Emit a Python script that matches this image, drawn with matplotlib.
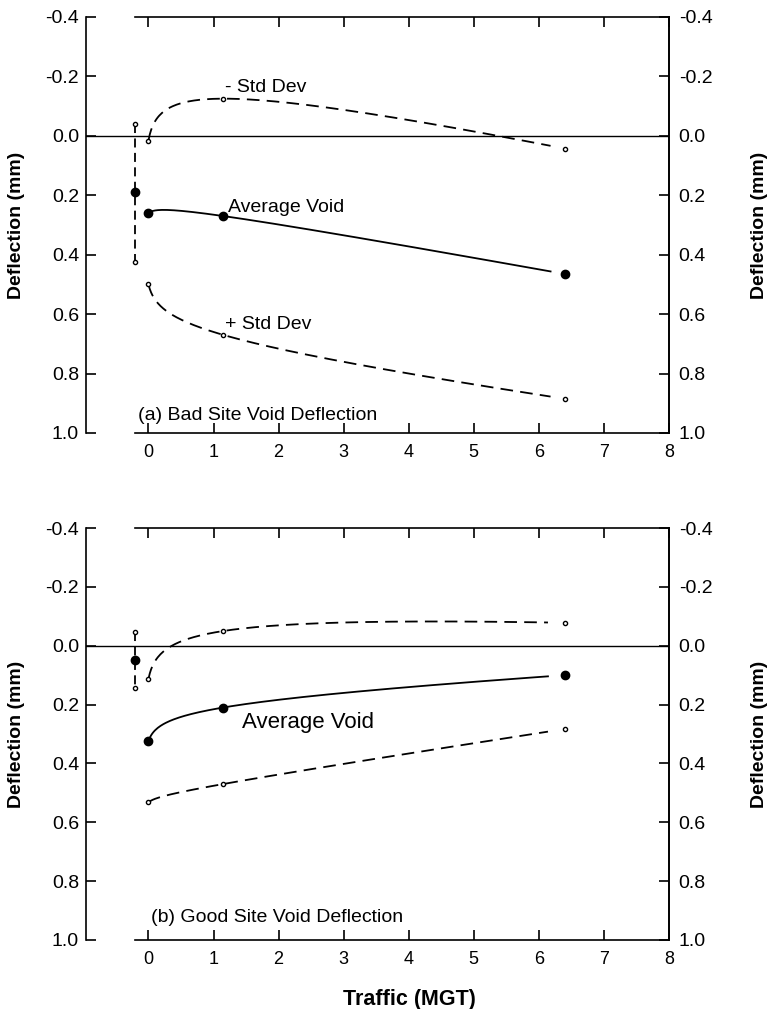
import numpy as np
import matplotlib
matplotlib.use("Agg")
import matplotlib.pyplot as plt

plt.rcParams['font.family'] = ['Liberation Sans', 'DejaVu Sans']

# traffic (MGT) at which the voids were measured; -0.2 is the pre-traffic survey
traffic = [0.0, 1.15, 6.4]
pre_x = -0.2

# (a) bad site, deflection in mm
bad_avg = [0.26, 0.27, 0.465]
bad_minus = [0.016, -0.125, 0.043]
bad_plus = [0.50, 0.67, 0.885]
bad_pre = [0.19, -0.04, 0.424]   # mean, -std, +std

# (b) good site
good_avg = [0.324, 0.21, 0.10]
good_minus = [0.113, -0.05, -0.078]
good_plus = [0.532, 0.47, 0.283]
good_pre = [0.048, -0.048, 0.143]

yticks = [-0.4, -0.2, 0.0, 0.2, 0.4, 0.6, 0.8, 1.0]
xticks = [0, 1, 2, 3, 4, 5, 6, 7, 8]


def log_fit(x, y, d=0.05):
    # y = a + b*x + c*ln(x+d), same kind of regression curve as the original
    x = np.asarray(x)
    A = np.column_stack([np.ones_like(x), x, np.log(x + d)])
    coef = np.linalg.lstsq(A, np.asarray(y), rcond=None)[0]
    return lambda t: coef[0] + coef[1] * t + coef[2] * np.log(t + d)


def draw_panel(ax, avg, minus, plus, pre, fit_end):
    t = np.linspace(0, fit_end, 300)
    ax.axhline(0, color='black', lw=1.0, zorder=1)
    ax.plot(t, log_fit(traffic, avg)(t), color='black', lw=1.3)
    for s in (minus, plus):
        ax.plot(t, log_fit(traffic, s)(t), color='black', lw=1.3, dashes=(7, 4))
        ax.plot(traffic, s, 'o', ms=3, mfc='white', mec='black', mew=1, zorder=4)
    ax.plot(traffic, avg, 'o', ms=6, color='black', zorder=4)

    # pre-traffic mean with std bar
    ax.plot([pre_x, pre_x], [pre[1], pre[2]], color='black', lw=1.3, dashes=(5, 3))
    ax.plot([pre_x, pre_x], [pre[1], pre[2]], 'o', ms=3, mfc='white', mec='black', mew=1, zorder=4)
    ax.plot(pre_x, pre[0], 'o', ms=6, color='black', zorder=4)

    ax.set_xlim(-0.96, 8)
    ax.set_ylim(1.0, -0.4)
    ax.set_yticks(yticks)
    ax.set_yticklabels([f'{v:.1f}' for v in yticks])
    ax.set_xticks(xticks)
    ax.spines['bottom'].set_bounds(-0.2, 8)
    ax.spines['top'].set_bounds(-0.2, 8)
    for sp in ax.spines.values():
        sp.set_linewidth(1.2)
    ax.tick_params(axis='both', direction='in', length=7, width=1.2, top=True, labelsize=14)
    ax.tick_params(axis='y', pad=5)
    ax.tick_params(axis='x', pad=8, labelsize=13)

    ax.set_ylabel('Deflection (mm)', fontsize=14, fontweight='bold')
    ax.yaxis.set_label_coords(-0.105, 0.5)

    sec = ax.secondary_yaxis('right')
    sec.set_yticks(yticks)
    sec.set_yticklabels([f'{v:.1f}' for v in yticks])
    sec.tick_params(direction='in', length=7, width=1.2, labelsize=14, pad=7)
    sec.spines['right'].set_linewidth(1.2)
    sec.set_ylabel('Deflection (mm)', fontsize=14, fontweight='bold', labelpad=28)
    return ax


fig = plt.figure(figsize=(7.76, 10.09), dpi=100)
ax_a = fig.add_axes([0.1108, 0.5709, 0.7513, 0.4123])
ax_b = fig.add_axes([0.1108, 0.0684, 0.7513, 0.4083])

draw_panel(ax_a, bad_avg, bad_minus, bad_plus, bad_pre, 6.18)
ax_a.text(1.17, -0.148, '- Std Dev', fontsize=14)
ax_a.text(1.22, 0.256, 'Average Void', fontsize=14)
ax_a.text(1.17, 0.65, '+ Std Dev', fontsize=14)
ax_a.text(-0.16, 0.956, '(a) Bad Site Void Deflection', fontsize=14)

draw_panel(ax_b, good_avg, good_minus, good_plus, good_pre, 6.14)
ax_b.text(1.44, 0.278, 'Average Void', fontsize=16)
ax_b.text(0.04, 0.94, '(b) Good Site Void Deflection', fontsize=14)
ax_b.set_xlabel('Traffic (MGT)', fontsize=15.5, fontweight='bold')
ax_b.xaxis.set_label_coords(0.554, -0.12)

fig.savefig('out.png', dpi=100)
